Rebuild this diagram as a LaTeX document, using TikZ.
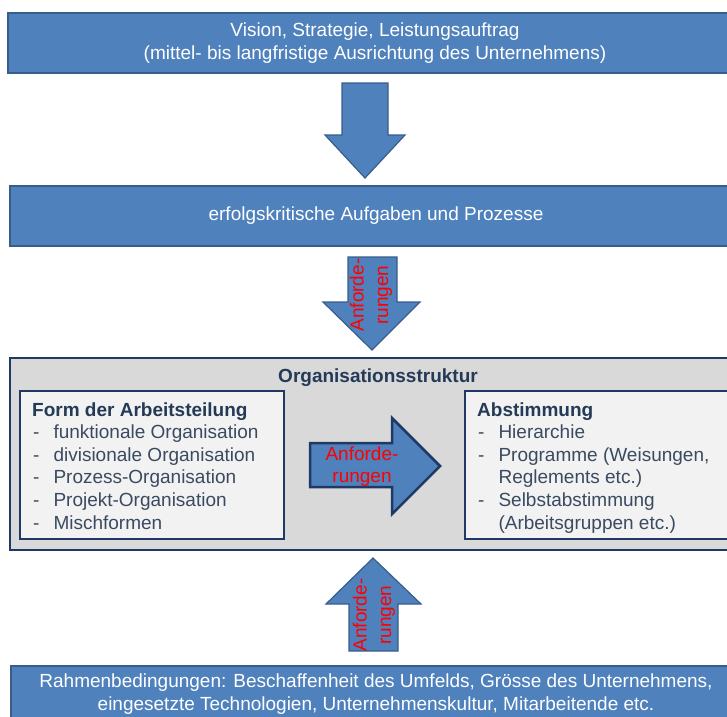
\documentclass[tikz,border=0pt]{standalone}
\usepackage{fontspec}
\setmainfont{Liberation Sans}
\definecolor{boxblue}{HTML}{4F81BD}
\definecolor{boxline}{HTML}{385D8A}
\definecolor{navy}{HTML}{1F3864}
\definecolor{greyfill}{HTML}{D9D9D9}
\definecolor{whitefill}{HTML}{F2F2F2}
\definecolor{headc}{HTML}{243A56}
\definecolor{itemc}{HTML}{3A4A60}
\definecolor{redtext}{HTML}{FF0000}
\begin{document}
\begin{tikzpicture}[x=1pt,y=-1pt,
  txt/.style={font=\fontsize{19}{22.7}\selectfont, inner sep=0pt},
  bluebox/.style={txt, fill=boxblue, draw=boxline, line width=2pt, text=white, align=center},
  blockarrow/.style={fill=boxblue, draw=boxline, line width=1.2pt, line join=miter},
  midarrow/.style={fill=boxblue, draw=navy, line width=2.5pt, line join=miter},
  greyframe/.style={fill=greyfill, draw=navy, line width=2.2pt},
  whiteframe/.style={fill=whitefill, draw=navy, line width=2.5pt},
  redlabel/.style={txt, text=redtext, align=center, font=\fontsize{19}{24.5}\selectfont},
  heading/.style={txt, text=headc, font=\fontsize{19}{22.7}\selectfont\bfseries},
  itemlist/.style={txt, text=itemc}
]
\useasboundingbox (0,0) rectangle (727,716);
\clip (0,0) rectangle (727,716);

% top box
\node[bluebox, minimum width=734pt, minimum height=60pt] (vision) at (375,43)
  {Vision, Strategie, Leistungsauftrag\\(mittel- bis langfristige Ausrichtung des Unternehmens)};

% arrow 1
\draw[blockarrow] (342,83) -- (388,83) -- (388,135) -- (405,135) -- (365,178) -- (325,135) -- (342,135) -- cycle;

% second box
\node[bluebox, minimum width=732pt, minimum height=60pt] (aufgaben) at (376,216)
  {erfolgskritische Aufgaben und Prozesse};

% arrow 2
\draw[blockarrow] (348,257) -- (397,257) -- (397,302) -- (420,302) -- (372,350) -- (323,302) -- (348,302) -- cycle;
\node[redlabel, rotate=90] (anf1) at (371,295) {Anforde-\\rungen};

% Organisationsstruktur frame
\draw[greyframe] (10,358) rectangle (746,550);
\node[heading] (org) at (378,378) {Organisationsstruktur};

\draw[whiteframe] (20,391) rectangle (284,539);
\draw[whiteframe] (465,391) rectangle (740,539);

\node[heading, anchor=base west] (form) at (32,416) {Form der Arbeitsteilung};
\node[itemlist, anchor=base west] (formlist) at (33,438.5)
  {\begin{tabular}[t]{@{}l@{\hspace{14pt}}l@{}}
   - & funktionale Organisation\\
   - & divisionale Organisation\\
   - & Prozess-Organisation\\
   - & Projekt-Organisation\\
   - & Mischformen
   \end{tabular}};

\node[heading, anchor=base west] (abst) at (477,416) {Abstimmung};
\node[itemlist, anchor=base west] (abstlist) at (478,438.5)
  {\begin{tabular}[t]{@{}l@{\hspace{14pt}}l@{}}
   - & Hierarchie\\
   - & Programme (Weisungen,\\
     & Reglements etc.)\\
   - & Selbstabstimmung\\
     & (Arbeitsgruppen etc.)
   \end{tabular}};

% middle arrow
\draw[midarrow] (310,443) -- (392,443) -- (392,418) -- (440,466) -- (392,514) -- (392,487) -- (310,487) -- cycle;
\node[redlabel, font=\fontsize{19}{22}\selectfont] (anf2) at (362,467) {Anforde-\\rungen};

% arrow 4 (up)
\draw[blockarrow] (349,651) -- (398,651) -- (398,604) -- (421,604) -- (373,558) -- (326,604) -- (349,604) -- cycle;
\node[redlabel, rotate=90] (anf3) at (374,615) {Anforde-\\rungen};

% bottom box
\node[bluebox, minimum width=730pt, minimum height=74pt] (rahmen) at (376,703) {};
\node[txt, text=white, align=center] (rahmentext) at (376,694)
  {Rahmenbedingungen: Beschaffenheit des Umfelds, Grösse des Unternehmens,\\eingesetzte Technologien, Unternehmenskultur, Mitarbeitende etc.};
\end{tikzpicture}
\end{document}
